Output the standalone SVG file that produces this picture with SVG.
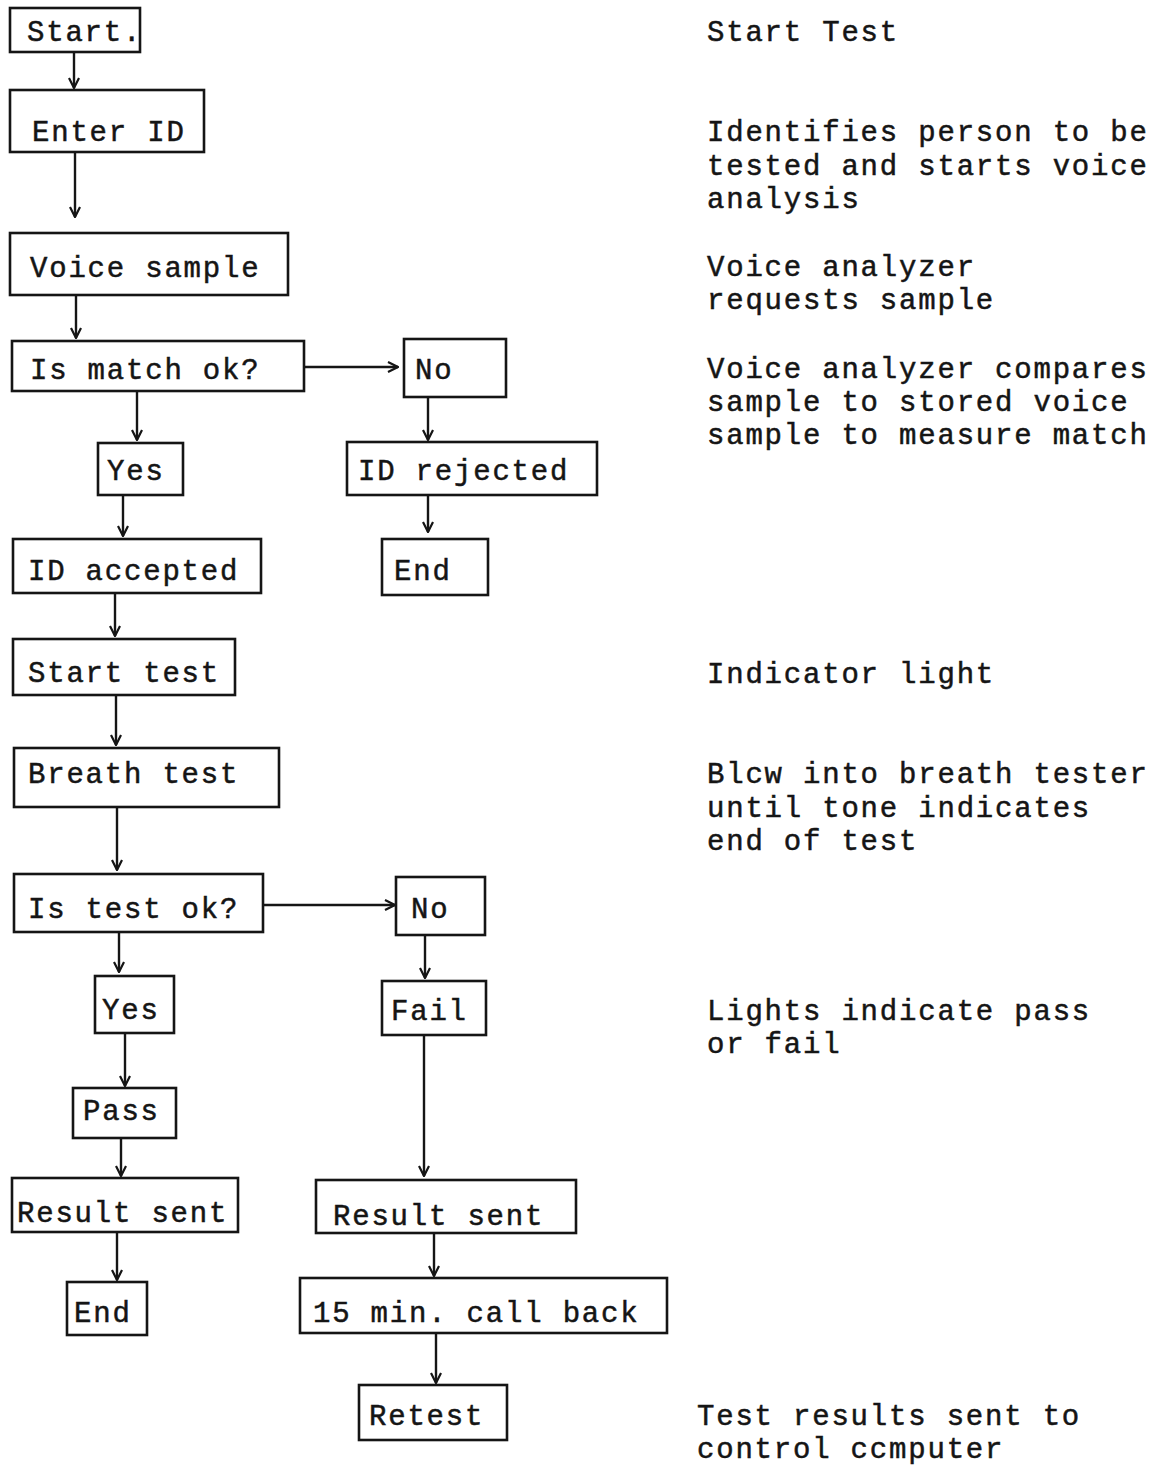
<svg xmlns="http://www.w3.org/2000/svg" width="1169" height="1467" viewBox="0 0 1169 1467">
<style>
.box{fill:none;stroke:#151515;stroke-width:2.6}
.t{font-family:"Liberation Mono","Courier New",monospace;font-size:29px;letter-spacing:1.8px;fill:#151515;stroke:#151515;stroke-width:0.5}
.c{fill:none;stroke:#151515;stroke-width:2.4;marker-end:url(#ah)}
</style>
<defs>
<marker id="ah" viewBox="0 0 12 12" refX="11" refY="6" markerWidth="12" markerHeight="12" markerUnits="userSpaceOnUse" orient="auto">
<path d="M1,1 L11,6 L1,11" fill="none" stroke="#151515" stroke-width="2.2"/>
</marker>
</defs>
<rect x="0" y="0" width="1169" height="1467" fill="#ffffff"/>

<g id="connectors">
<line class="c" x1="74" y1="52" x2="74" y2="88"/>
<line class="c" x1="75" y1="153" x2="75" y2="217"/>
<line class="c" x1="76" y1="296" x2="76" y2="338"/>
<line class="c" x1="305" y1="367" x2="398" y2="367"/>
<line class="c" x1="137" y1="390" x2="137" y2="440"/>
<line class="c" x1="428" y1="397" x2="428" y2="440"/>
<line class="c" x1="123" y1="495" x2="123" y2="536"/>
<line class="c" x1="428" y1="495" x2="428" y2="532"/>
<line class="c" x1="115" y1="593" x2="115" y2="636"/>
<line class="c" x1="116" y1="695" x2="116" y2="745"/>
<line class="c" x1="117" y1="807" x2="117" y2="870"/>
<line class="c" x1="263" y1="905" x2="395" y2="905"/>
<line class="c" x1="119" y1="932" x2="119" y2="972"/>
<line class="c" x1="425" y1="935" x2="425" y2="978"/>
<line class="c" x1="125" y1="1033" x2="125" y2="1086"/>
<line class="c" x1="424" y1="1035" x2="424" y2="1176"/>
<line class="c" x1="121" y1="1138" x2="121" y2="1176"/>
<line class="c" x1="117" y1="1232" x2="117" y2="1280"/>
<line class="c" x1="434" y1="1233" x2="434" y2="1276"/>
<line class="c" x1="436" y1="1333" x2="436" y2="1383"/>
</g>

<g id="n-start"><rect class="box" x="10" y="8" width="130" height="44"/><text class="t" x="27" y="41">Start.</text></g>
<g id="n-enterid"><rect class="box" x="10" y="90" width="194" height="62"/><text class="t" x="32" y="141">Enter ID</text></g>
<g id="n-voicesample"><rect class="box" x="10" y="233" width="278" height="62"/><text class="t" x="30" y="277">Voice sample</text></g>
<g id="n-ismatch"><rect class="box" x="12" y="341" width="292" height="50"/><text class="t" x="30" y="379">Is match ok?</text></g>
<g id="n-no1"><rect class="box" x="404" y="339" width="102" height="58"/><text class="t" x="415" y="379">No</text></g>
<g id="n-yes1"><rect class="box" x="98" y="443" width="85" height="52"/><text class="t" x="107" y="480">Yes</text></g>
<g id="n-idrejected"><rect class="box" x="347" y="442" width="250" height="53"/><text class="t" x="358" y="480">ID rejected</text></g>
<g id="n-idaccepted"><rect class="box" x="13" y="539" width="248" height="54"/><text class="t" x="28" y="580">ID accepted</text></g>
<g id="n-end1"><rect class="box" x="382" y="539" width="106" height="56"/><text class="t" x="394" y="580">End</text></g>
<g id="n-starttest"><rect class="box" x="13" y="639" width="222" height="56"/><text class="t" x="28" y="682">Start test</text></g>
<g id="n-breathtest"><rect class="box" x="14" y="748" width="265" height="59"/><text class="t" x="28" y="783">Breath test</text></g>
<g id="n-istestok"><rect class="box" x="14" y="874" width="249" height="58"/><text class="t" x="28" y="918">Is test ok?</text></g>
<g id="n-no2"><rect class="box" x="396" y="877" width="89" height="58"/><text class="t" x="411" y="918">No</text></g>
<g id="n-yes2"><rect class="box" x="95" y="976" width="79" height="57"/><text class="t" x="102" y="1019">Yes</text></g>
<g id="n-fail"><rect class="box" x="382" y="981" width="104" height="54"/><text class="t" x="391" y="1020">Fail</text></g>
<g id="n-pass"><rect class="box" x="73" y="1088" width="103" height="50"/><text class="t" x="83" y="1120">Pass</text></g>
<g id="n-result1"><rect class="box" x="12" y="1178" width="226" height="54"/><text class="t" x="17" y="1222">Result sent</text></g>
<g id="n-result2"><rect class="box" x="316" y="1180" width="260" height="53"/><text class="t" x="333" y="1225">Result sent</text></g>
<g id="n-end2"><rect class="box" x="67" y="1282" width="80" height="53"/><text class="t" x="74" y="1322">End</text></g>
<g id="n-callback"><rect class="box" x="300" y="1278" width="367" height="55"/><text class="t" x="313" y="1322">15 min. call back</text></g>
<g id="n-retest"><rect class="box" x="359" y="1385" width="148" height="55"/><text class="t" x="369" y="1425">Retest</text></g>

<g id="notes">
<text class="t" x="707" y="41">Start Test</text>
<text class="t" x="707" y="141">Identifies person to be</text>
<text class="t" x="707" y="175">tested and starts voice</text>
<text class="t" x="707" y="208">analysis</text>
<text class="t" x="707" y="276">Voice analyzer</text>
<text class="t" x="707" y="309">requests sample</text>
<text class="t" x="707" y="378">Voice analyzer compares</text>
<text class="t" x="707" y="411">sample to stored voice</text>
<text class="t" x="707" y="444">sample to measure match</text>
<text class="t" x="707" y="683">Indicator light</text>
<text class="t" x="707" y="783">Blcw into breath tester</text>
<text class="t" x="707" y="817">until tone indicates</text>
<text class="t" x="707" y="850">end of test</text>
<text class="t" x="707" y="1020">Lights indicate pass</text>
<text class="t" x="707" y="1053">or fail</text>
<text class="t" x="697" y="1425">Test results sent to</text>
<text class="t" x="697" y="1458">control ccmputer</text>
</g>
</svg>
